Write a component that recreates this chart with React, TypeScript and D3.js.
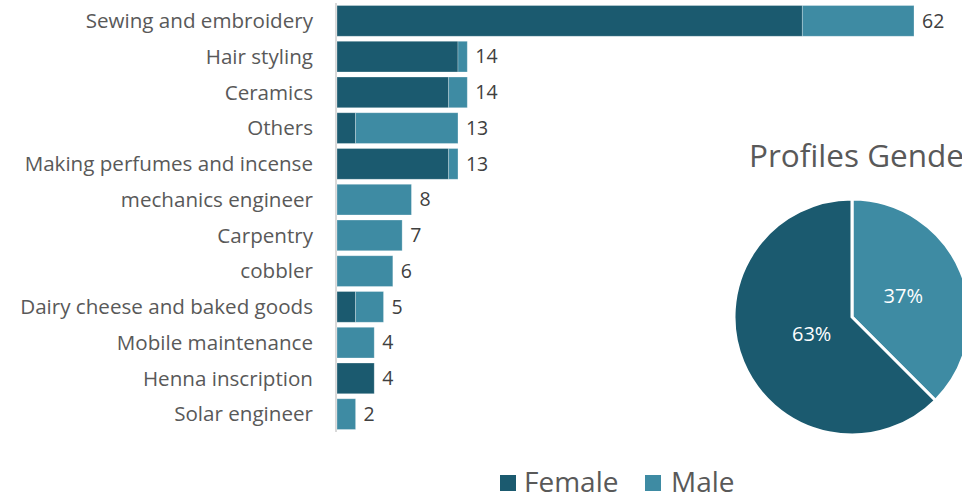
import React from 'react';
import * as d3 from 'd3';

const categories = [
  'Sewing and embroidery',
  'Hair styling',
  'Ceramics',
  'Others',
  'Making perfumes and incense',
  'mechanics engineer',
  'Carpentry',
  'cobbler',
  'Dairy cheese and baked goods',
  'Mobile maintenance',
  'Henna inscription',
  'Solar engineer',
];
const female = [50, 13, 12, 2, 12, 0, 0, 0, 2, 0, 4, 0];
const male = [12, 1, 2, 11, 1, 8, 7, 6, 3, 4, 0, 2];
const totals = [62, 14, 14, 13, 13, 8, 7, 6, 5, 4, 4, 2];

const pieKeys = ['Female', 'Male'];
const pieValues = [62.5, 37.5];
const pieLabels = ['63%', '37%'];

const COLORS: Record<string, string> = { Female: '#1b5a6f', Male: '#3e8ba3' };
const FONT = '"Open Sans", "Noto Sans", sans-serif';

export default function App() {
  const W = 962;
  const H = 496;

  const x = d3.scaleLinear().domain([0, 62]).range([337, 914]);
  const y = d3.scaleBand().domain(categories).range([3, 432]).paddingInner(0.14).paddingOuter(0.07);

  // Male starts at 12 o'clock going clockwise, Female follows
  const keysRev = pieKeys.slice().reverse();
  const labelsRev = pieLabels.slice().reverse();
  const arcs = d3.pie<number>().sort(null).value(d => d)(pieValues.slice().reverse());
  const R = 118;
  const arcGen = d3.arc<d3.PieArcDatum<number>>().innerRadius(0).outerRadius(R);
  const labelR = [0.47, 0.37];

  return (
    <svg width={W} height={H} style={{ position: 'absolute', left: 0, top: 0, background: '#fff' }}>
      {/* category axis */}
      <line x1={336} x2={336} y1={3} y2={432} stroke="#d9d9d9" strokeWidth={2} />

      {categories.map((c, i) => {
        const by = y(c)!;
        const bh = y.bandwidth();
        return (
          <g key={c}>
            <text x={313} y={by + bh / 2} dy="0.35em" textAnchor="end" fontFamily={FONT} fontSize={20.6} fill="#595959">
              {c}
            </text>
            {female[i] > 0 && (
              <rect x={x(0)} y={by} width={x(female[i]) - x(0)} height={bh} fill={COLORS.Female} stroke="#fff" strokeOpacity={0.35} strokeWidth={0.8} />
            )}
            {male[i] > 0 && (
              <rect x={x(female[i])} y={by} width={x(female[i] + male[i]) - x(female[i])} height={bh} fill={COLORS.Male} stroke="#fff" strokeOpacity={0.35} strokeWidth={0.8} />
            )}
            <text x={x(totals[i]) + 8} y={by + bh / 2} dy="0.35em" fontFamily={FONT} fontSize={19.5} fill="#404040">
              {totals[i]}
            </text>
          </g>
        );
      })}

      {/* pie */}
      <text x={749} y={167} fontFamily={FONT} fontSize={31.5} fill="#595959">Profiles Gender</text>
      <g transform="translate(852,317)">
        {arcs.map((a, i) => (
          <path key={keysRev[i]} d={arcGen(a)!} fill={COLORS[keysRev[i]]} stroke="#fff" strokeWidth={3} />
        ))}
        {arcs.map((a, i) => {
          const r = R * labelR[i];
          const [lx, ly] = d3.arc<d3.PieArcDatum<number>>().innerRadius(r).outerRadius(r).centroid(a);
          return (
            <text key={'l' + i} x={lx} y={ly} dy="0.35em" textAnchor="middle" fontFamily={FONT} fontSize={20} fill="#fff">
              {labelsRev[i]}
            </text>
          );
        })}
      </g>

      {/* legend */}
      <rect x={500} y={475} width={16} height={16} fill={COLORS.Female} />
      <text x={524} y={492} fontFamily={FONT} fontSize={28} fill="#595959">Female</text>
      <rect x={645} y={475} width={16} height={16} fill={COLORS.Male} />
      <text x={671} y={492} fontFamily={FONT} fontSize={28} fill="#595959">Male</text>
    </svg>
  );
}
